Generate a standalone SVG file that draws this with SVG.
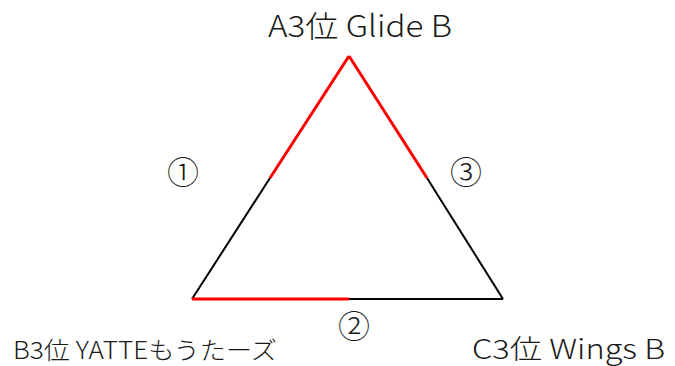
<svg xmlns="http://www.w3.org/2000/svg" width="675" height="366" viewBox="0 0 675 366">
<style>
text { font-family: "Noto Sans CJK JP", "Noto Sans", sans-serif; fill: #1a1a1a; font-weight: 300; }
.blk { stroke: #000; stroke-width: 2; fill: none; }
.red { stroke: #ff0000; stroke-width: 3; fill: none; }
.num { font-size: 32px; text-anchor: middle; }
</style>
<rect width="675" height="366" fill="#fff"/>
<g id="connectors">
<line class="blk" x1="270" y1="178" x2="192" y2="299"/>
<line class="blk" x1="427" y1="178" x2="503" y2="299"/>
<line class="blk" x1="349" y1="299" x2="503" y2="299"/>
<line class="red" x1="349" y1="56" x2="270" y2="178"/>
<line class="red" x1="349" y1="56" x2="427" y2="178"/>
<line class="red" x1="192" y1="299" x2="349" y2="299"/>
</g>
<g id="nodeA"><text x="268" y="37" font-size="30" textLength="184" lengthAdjust="spacingAndGlyphs">A3位 Glide B</text></g>
<g id="nodeB"><text x="13" y="359" font-size="24" textLength="264" lengthAdjust="spacingAndGlyphs">B3位 YATTEもうたーズ</text></g>
<g id="nodeC"><text x="472" y="359" font-size="27" textLength="193" lengthAdjust="spacingAndGlyphs">C3位 Wings B</text></g>
<g id="label1"><text class="num" x="183" y="184">①</text></g>
<g id="label2"><text class="num" x="354" y="338">②</text></g>
<g id="label3"><text class="num" x="466" y="184">③</text></g>
</svg>
